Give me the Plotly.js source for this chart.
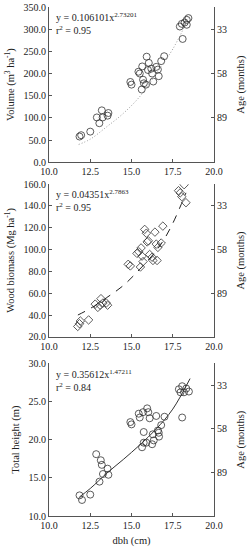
<!DOCTYPE html>
<html><head><meta charset="utf-8">
<script src="https://cdn.plot.ly/plotly-3.0.1.min.js"></script>
<style>html,body{margin:0;padding:0;background:#fff}#c{width:247px;height:550px}</style>
</head><body><div id="c"></div>
<script>
// Panel 1: Volume
const volDbh = [11.85,11.95,12.5,12.9,13.05,13.2,13.25,13.55,13.6,14.93,15.0,15.42,15.5,15.65,15.7,15.75,15.62,15.92,15.88,16.0,16.05,16.2,16.25,16.32,16.5,16.6,16.65,16.8,16.98,17.93,18.05,18.1,18.22,18.35,18.45,18.35];
const volVal = [58,61,69,101,88,117,101,105,111,181,175,204,200,216,186,178,164,238,175,208,224,211,200,182,215,209,194,228,239,306,312,278,315,321,325,310];
const volFitX = [11.8,12.5,13.5,14.5,15.5,16.5,17.5,18.55];
const volFitY = [40,52,80,110,148,200,255,332];
// Panel 2: Wood biomass
const bioDbh = [11.74,11.85,11.9,12.4,12.8,12.96,13.1,13.15,13.27,13.47,13.55,14.8,14.93,15.33,15.44,15.58,15.64,15.7,15.54,15.8,15.9,15.95,16.02,16.1,16.25,16.3,16.42,16.5,16.6,16.55,16.8,16.9,17.85,17.95,18.05,18.19,18.3];
const bioVal = [29.5,32,34.5,35.5,50,47,49,55,51,51,49,86.5,85,96.5,98,101.5,94,89,84,118.5,115,107,108,95.5,93,90,116,105,102,90,106,121.5,154,152,148.5,159.5,143];
const bioFitX = [11.75,12.5,13.5,14.5,15.5,16.5,17.0,17.5,18.0,18.3];
const bioFitY = [40,46,56,67,82,99,110,124,141,152];
// Panel 3: Total height
const hDbh = [11.85,12.0,12.5,12.86,13.06,13.14,13.2,13.27,13.55,13.6,14.93,15.0,15.44,15.5,15.7,15.95,16.02,15.74,15.64,15.74,15.9,16.1,16.29,16.35,16.25,16.5,16.6,16.65,16.67,16.8,17.0,17.87,17.97,18.07,18.18,18.32,18.48,18.07];
const hVal = [12.7,12.1,12.8,18.1,14.5,17.3,16.7,15.5,16.2,15.4,22.3,22.0,23.4,22.9,23.6,24.1,23.6,21.0,19.0,19.6,19.6,22.8,20.7,19.9,19.4,23.1,21.2,20.9,20.4,21.9,23.0,26.6,26.2,27.0,26.2,26.7,26.3,22.9];
const hFitX = [11.85,12.5,13.5,14.5,15.5,16.5,17.5,18.55];
const hFitY = [12.5,13.6,15.6,17.4,19.3,21.4,24.0,28.0];
// Tick labels
const dbhTicks = [10,12.5,15,17.5,20];
const ageTickPos = [6,4,2];
const ageTickText = ['33','58','89'];
const eqs = ['y = 0.106101x<sup>2.73201</sup><br>r<sup>2</sup> = 0.95',
             'y = 0.04351x<sup>2.7863</sup><br>r<sup>2</sup> = 0.95',
             'y = 0.35612x<sup>1.47211</sup><br>r<sup>2</sup> = 0.84'];

const F = {family:'Liberation Serif, Times New Roman, serif', size:10, color:'#222'};
const FT = {family:'Liberation Serif, Times New Roman, serif', size:10.5, color:'#222'};
const LC = '#555';
const mk = (sym,sz) => ({symbol:sym, size:sz, color:'#333', line:{color:'#333', width:0.8}});

const traces = [
  {x:volDbh, y:volVal, xaxis:'x', yaxis:'y', mode:'markers', type:'scatter', marker:mk('circle-open',7)},
  {x:volFitX, y:volFitY, xaxis:'x', yaxis:'y', mode:'lines', type:'scatter', line:{color:'#999', width:1, dash:'1px,2px', shape:'spline'}},
  {x:bioDbh, y:bioVal, xaxis:'x2', yaxis:'y2', mode:'markers', type:'scatter', marker:mk('diamond-open',6.5)},
  {x:bioFitX, y:bioFitY, xaxis:'x2', yaxis:'y2', mode:'lines', type:'scatter', line:{color:'#222', width:1, dash:'8px,7px', shape:'spline'}},
  {x:hDbh, y:hVal, xaxis:'x3', yaxis:'y3', mode:'markers', type:'scatter', marker:mk('circle-open',7)},
  {x:hFitX, y:hFitY, xaxis:'x3', yaxis:'y3', mode:'lines', type:'scatter', line:{color:'#333', width:1, shape:'spline'}},
  {x:[], y:[], xaxis:'x', yaxis:'y4', type:'scatter', mode:'markers'},
  {x:[], y:[], xaxis:'x2', yaxis:'y5', type:'scatter', mode:'markers'},
  {x:[], y:[], xaxis:'x3', yaxis:'y6', type:'scatter', mode:'markers'}
];

const xax = (anchor, title) => ({anchor:anchor, domain:[0,1], range:[10,20], tickvals:dbhTicks, tickformat:'.1f',
  showline:true, linecolor:LC, linewidth:1, ticks:'inside', ticklen:3, tickcolor:LC, showgrid:false, zeroline:false,
  tickfont:F, title: title ? {text:title, font:FT, standoff:6} : undefined});
const yax = (dom, rng, dt, title) => ({domain:dom, range:rng, dtick:dt, tick0:0, tickformat:'.1f',
  showline:true, linecolor:LC, linewidth:1, ticks:'inside', ticklen:3, tickcolor:LC, showgrid:false, zeroline:false,
  tickfont:F, title:{text:title, font:FT, standoff:6}});
const rax = (over, xa) => ({overlaying:over, anchor:xa, side:'right', range:[0,7], tickvals:[7].concat(ageTickPos), ticktext:[''].concat(ageTickText),
  showline:true, linecolor:LC, linewidth:1, ticks:'inside', ticklen:3, tickcolor:LC, showgrid:false, zeroline:false,
  tickfont:F, title:{text:'Age (months)', font:FT, standoff:14}});

const layout = {
  width:247, height:550, margin:{l:49, r:33, t:7, b:34},
  paper_bgcolor:'#fff', plot_bgcolor:'#fff', showlegend:false, font:F,
  xaxis: xax('y'), xaxis2: xax('y2'), xaxis3: xax('y3','dbh (cm)'),
  yaxis: yax([0.695,1.0], [0,350], 50, 'Volume (m<sup>3</sup> ha<sup>-1</sup>)'),
  yaxis2: yax([0.352,0.652], [20,160], 20, 'Wood biomass (Mg ha<sup>-1</sup>)'),
  yaxis3: yax([0,0.3], [10,30], 5, 'Total height (m)'),
  yaxis4: rax('y','x'), yaxis5: rax('y2','x2'), yaxis6: rax('y3','x3'),
  annotations: [
    {text:eqs[0], xref:'x domain', yref:'y domain', x:0.03, y:0.985, xanchor:'left', yanchor:'top', showarrow:false, align:'left', font:F},
    {text:eqs[1], xref:'x2 domain', yref:'y2 domain', x:0.03, y:0.985, xanchor:'left', yanchor:'top', showarrow:false, align:'left', font:F},
    {text:eqs[2], xref:'x3 domain', yref:'y3 domain', x:0.03, y:0.985, xanchor:'left', yanchor:'top', showarrow:false, align:'left', font:F}
  ]
};
Plotly.newPlot('c', traces, layout, {staticPlot:true, displayModeBar:false});
</script></body></html>
